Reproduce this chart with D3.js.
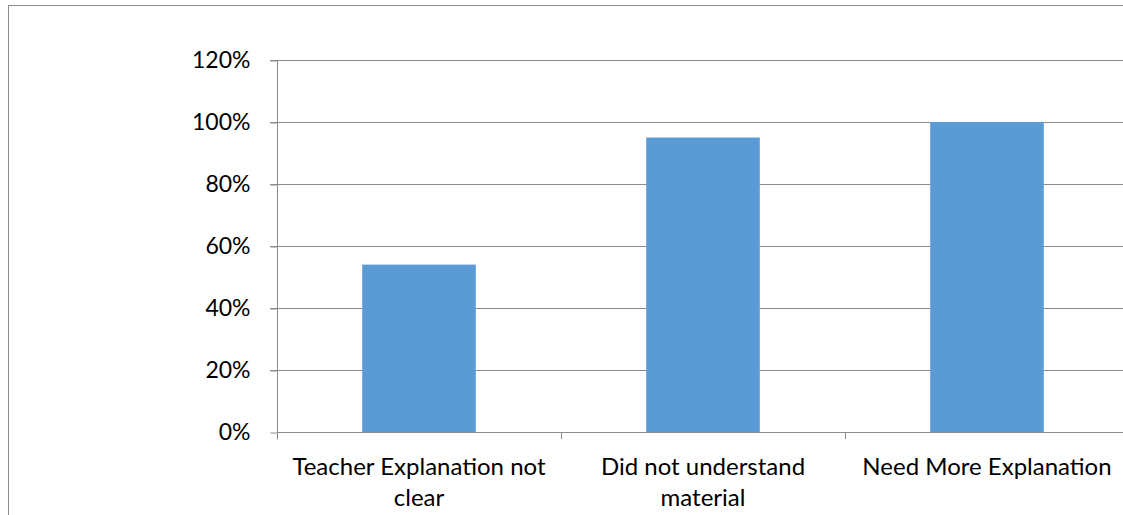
<!DOCTYPE html>
<html>
<head>
<meta charset="utf-8">
<script src="https://cdn.jsdelivr.net/npm/d3@7"></script>
<style>
  html, body { margin: 0; padding: 0; background: #fff; overflow: hidden; }
  svg { display: block; }
  text { font-family: Lato, "Open Sans", sans-serif; fill: #000; }
</style>
</head>
<body>
<svg id="chart" width="1123" height="515"></svg>
<script>
// Survey responses: share of students citing each reason
const categories = ["Teacher Explanation not clear", "Did not understand material", "Need More Explanation"];
const labelLines = [["Teacher Explanation not", "clear"], ["Did not understand", "material"], ["Need More Explanation"]];
const values = [0.54, 0.95, 1.00];
const yTicks = [0, 0.2, 0.4, 0.6, 0.8, 1.0, 1.2];

const FONT = "Lato, 'Open Sans', sans-serif";
const FS_Y = 23;
const FS_X = 24;

const svg = d3.select("#chart");

// outer chart frame (right and bottom edges fall outside the view)
svg.append("rect")
  .attr("x", 8.5).attr("y", 5.5)
  .attr("width", 1300).attr("height", 700)
  .attr("fill", "none").attr("stroke", "#8c8c8c").attr("stroke-width", 1);

const plot = { left: 277, right: 277 + 3 * 284, top: 60, bottom: 432 };

const x = d3.scaleBand().domain(categories).range([plot.left, plot.right]).padding(0);
const y = d3.scaleLinear().domain([0, 1.2]).range([plot.bottom, plot.top]);

// horizontal gridlines
svg.append("g")
  .selectAll("line")
  .data(yTicks.filter(d => d > 0))
  .join("line")
  .attr("x1", plot.left - 7).attr("x2", plot.right)
  .attr("y1", d => Math.round(y(d)) + 0.5).attr("y2", d => Math.round(y(d)) + 0.5)
  .attr("stroke", "#8c8c8c").attr("stroke-width", 1);

// bars (gap width 150%)
const barW = x.bandwidth() / 2.5;
svg.append("g")
  .selectAll("rect")
  .data(values)
  .join("rect")
  .attr("x", (d, i) => x(categories[i]) + (x.bandwidth() - barW) / 2)
  .attr("y", d => y(d))
  .attr("width", barW)
  .attr("height", d => y(0) - y(d))
  .attr("fill", "#5b9bd5");

// y axis
const yAxis = d3.axisLeft(y)
  .tickValues(yTicks)
  .tickFormat(d3.format(".0%"))
  .tickSize(7)
  .tickPadding(20);
const gy = svg.append("g")
  .attr("transform", `translate(${plot.left + 0.5},0.5)`)
  .call(yAxis)
  .attr("font-size", FS_Y)
  .attr("font-family", FONT);
gy.select(".domain").attr("stroke", "#8c8c8c").attr("d", `M0,${plot.top}V${plot.bottom + 7}`);
gy.selectAll(".tick line").attr("stroke", "#8c8c8c");
gy.selectAll(".tick text").attr("fill", "#000");

// x axis baseline
const gx = svg.append("g")
  .attr("transform", `translate(0,${plot.bottom + 0.5})`)
  .call(d3.axisBottom(x).tickSize(0).tickFormat(""));
gx.select(".domain").attr("stroke", "#8c8c8c").attr("d", `M${plot.left},0H${plot.right}`);
gx.selectAll(".tick").remove();

// category dividers on the x axis
svg.append("g")
  .selectAll("line")
  .data(categories.slice(1))
  .join("line")
  .attr("x1", d => Math.round(x(d)) + 0.5).attr("x2", d => Math.round(x(d)) + 0.5)
  .attr("y1", plot.bottom).attr("y2", plot.bottom + 7)
  .attr("stroke", "#8c8c8c");

// category labels
const lbl = svg.append("g")
  .attr("font-size", FS_X)
  .attr("font-family", FONT)
  .selectAll("text")
  .data(categories)
  .join("text")
  .attr("text-anchor", "middle")
  .attr("transform", d => `translate(${x(d) + x.bandwidth() / 2},${plot.bottom + 43})`);
lbl.selectAll("tspan")
  .data((d, i) => labelLines[i])
  .join("tspan")
  .attr("x", 0)
  .attr("dy", (d, i) => i === 0 ? 0 : 31)
  .text(d => d);
</script>
</body>
</html>
